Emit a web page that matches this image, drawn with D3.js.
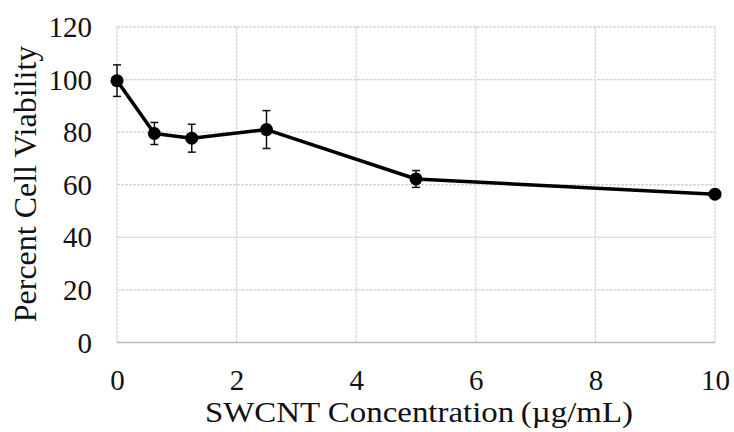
<!DOCTYPE html>
<html>
<head>
<meta charset="utf-8">
<script src="https://cdn.jsdelivr.net/npm/d3@7"></script>
<style>
  html, body { margin: 0; padding: 0; background: #fff; }
  svg text { font-family: "Liberation Serif", "Times New Roman", serif; fill: #111; }
</style>
</head>
<body>
<svg id="chart" width="734" height="432"></svg>
<script>
// SWCNT concentration (µg/mL) and measured viability (%) with error (±)
const concentrations = [0, 0.625, 1.25, 2.5, 5, 10];
const viability      = [99.6, 79.5, 77.7, 81.0, 62.2, 56.4];
const errors         = [6.0, 4.2, 5.3, 7.2, 3.2, 1.2];
const xTicks = [0, 2, 4, 6, 8, 10];
const yTicks = [0, 20, 40, 60, 80, 100, 120];

const svg = d3.select("#chart");
const plotLeft = 117, plotRight = 715, plotTop = 27, plotBottom = 342.5;

const x = d3.scaleLinear().domain([0, 10]).range([plotLeft, plotRight]);
const y = d3.scaleLinear().domain([0, 120]).range([plotBottom, plotTop]);

// grid
const grid = svg.append("g");
grid.selectAll("line.h").data(yTicks.filter(d => d > 0)).join("line")
  .attr("x1", plotLeft).attr("x2", plotRight)
  .attr("y1", d => y(d)).attr("y2", d => y(d))
  .attr("stroke", "#d6d6d6").attr("stroke-width", 1.3)
  .attr("stroke-dasharray", "3,1");
grid.selectAll("line.v").data(xTicks).join("line")
  .attr("y1", plotTop).attr("y2", plotBottom)
  .attr("x1", d => x(d)).attr("x2", d => x(d))
  .attr("stroke", "#d6d6d6").attr("stroke-width", 1.3)
  .attr("stroke-dasharray", "3,1");

// x axis baseline
svg.append("line")
  .attr("x1", plotLeft).attr("x2", plotRight)
  .attr("y1", y(0)).attr("y2", y(0))
  .attr("stroke", "#bcbcbc").attr("stroke-width", 1.6);

// axes (labels only)
const xAxis = svg.append("g")
  .attr("transform", `translate(0,${plotBottom})`)
  .call(d3.axisBottom(x).tickValues(xTicks).tickSize(0).tickPadding(27).tickFormat(d3.format("d")));
xAxis.select(".domain").remove();
xAxis.selectAll("text").attr("font-size", 29).attr("dy", "0.71em").attr("fill", "#111");

const yAxis = svg.append("g")
  .attr("transform", `translate(${plotLeft},0)`)
  .call(d3.axisLeft(y).tickValues(yTicks).tickSize(0).tickPadding(25).tickFormat(d3.format("d")));
yAxis.select(".domain").remove();
yAxis.selectAll("text").attr("font-size", 29).attr("dy", "0.33em").attr("fill", "#111");

// error bars
const eb = svg.append("g").attr("stroke", "#111").attr("stroke-width", 1.5);
concentrations.forEach((c, i) => {
  const cx = x(c), hi = y(viability[i] + errors[i]), lo = y(viability[i] - errors[i]);
  eb.append("line").attr("x1", cx).attr("x2", cx).attr("y1", hi).attr("y2", lo);
  eb.append("line").attr("x1", cx - 4).attr("x2", cx + 4).attr("y1", hi).attr("y2", hi);
  eb.append("line").attr("x1", cx - 4).attr("x2", cx + 4).attr("y1", lo).attr("y2", lo);
});

// series line
const pts = concentrations.map((c, i) => [c, viability[i]]);
svg.append("path")
  .datum(pts)
  .attr("fill", "none").attr("stroke", "#000").attr("stroke-width", 3.5)
  .attr("stroke-linejoin", "round")
  .attr("d", d3.line().x(d => x(d[0])).y(d => y(d[1])));

svg.append("g").selectAll("circle").data(pts).join("circle")
  .attr("cx", d => x(d[0])).attr("cy", d => y(d[1])).attr("r", 6.5)
  .attr("fill", "#000");

// axis titles
svg.append("text")
  .attr("x", 419).attr("y", 422)
  .attr("text-anchor", "middle").attr("font-size", 30)
  .attr("textLength", 428).attr("lengthAdjust", "spacingAndGlyphs")
  .text("SWCNT Concentration\u2009(µg/mL)");

svg.append("text")
  .attr("transform", "translate(36,184) rotate(-90)")
  .attr("text-anchor", "middle").attr("font-size", 32)
  .text("Percent Cell Viability");
</script>
</body>
</html>
